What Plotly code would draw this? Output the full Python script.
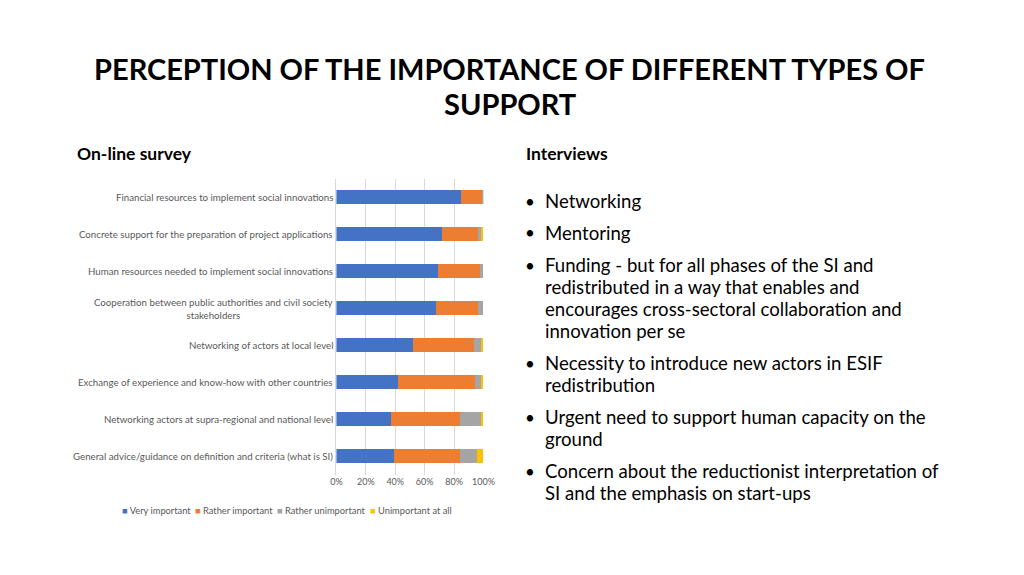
import plotly.graph_objects as go

categories = [
    "Financial resources to implement social innovations",
    "Concrete support for the preparation of project applications",
    "Human resources needed to implement social innovations",
    "Cooperation between public authorities and civil society<br>stakeholders",
    "Networking of actors at local level",
    "Exchange of experience and know-how with other countries",
    "Networking actors at supra-regional and national level",
    "General advice/guidance on definition and criteria (what is SI)",
]
very_important = [85, 72, 69, 68, 52, 42, 37, 39.5]
rather_important = [14.5, 24.5, 28.5, 28.5, 41.5, 52.5, 47, 44.5]
rather_unimportant = [0.5, 2, 2.5, 3.5, 4.5, 4.5, 14.5, 11.5]
unimportant_at_all = [0, 1.5, 0, 0, 2, 1, 1.5, 4.5]

series_names = ["Very important", "Rather important", "Rather unimportant", "Unimportant at all"]
series_values = [very_important, rather_important, rather_unimportant, unimportant_at_all]
colors = ["#4472C4", "#ED7D31", "#A5A5A5", "#FFC000"]

x_ticks = [0, 20, 40, 60, 80, 100]
x_tick_labels = ["0%", "20%", "40%", "60%", "80%", "100%"]

bullets = [
    ["Networking"],
    ["Mentoring"],
    ["Funding - but for all phases of the SI and",
     "redistributed in a way that enables and",
     "encourages cross-sectoral collaboration and",
     "innovation per se"],
    ["Necessity to introduce new actors in ESIF",
     "redistribution"],
    ["Urgent need to support human capacity on the",
     "ground"],
    ["Concern about the reductionist interpretation of",
     "SI and the emphasis on start-ups"],
]

W, H = 1024, 575
FONT = "Lato"

fig = go.Figure()
for name, vals, col in zip(series_names, series_values, colors):
    fig.add_trace(go.Bar(
        y=categories, x=vals, name=name, orientation="h",
        marker=dict(color=col, line=dict(width=0)), width=0.4,
        showlegend=False,
    ))


def py(pix):
    return 1 - pix / H


def px(pix):
    return pix / W


annotations = []
for c in categories:
    annotations.append(dict(
        x=0, xref="x domain", y=c, yref="y", xanchor="right", xshift=-1,
        text=c, showarrow=False, align="center",
        font=dict(family=FONT, size=9.7, color="#595959"),
    ))

annotations.append(dict(x=0.5, y=py(68), xref="paper", yref="paper", xanchor="center", yanchor="middle",
                        text="<b>PERCEPTION OF THE IMPORTANCE OF DIFFERENT TYPES OF</b>", showarrow=False,
                        font=dict(family=FONT, size=29, color="#000000")))
annotations.append(dict(x=0.5, y=py(103), xref="paper", yref="paper", xanchor="center", yanchor="middle",
                        text="<b>SUPPORT</b>", showarrow=False,
                        font=dict(family=FONT, size=29, color="#000000")))
annotations.append(dict(x=px(70), y=py(154), xref="paper", yref="paper", xanchor="left", yanchor="middle",
                        text="<b>On-line survey</b>", showarrow=False,
                        font=dict(family=FONT, size=17.5, color="#000000")))
annotations.append(dict(x=px(527), y=py(154), xref="paper", yref="paper", xanchor="left", yanchor="middle",
                        text="<b>Interviews</b>", showarrow=False,
                        font=dict(family=FONT, size=17.5, color="#000000")))

legend_x = [116, 190, 274, 368]
for name, col, lx in zip(series_names, colors, legend_x):
    annotations.append(dict(x=px(lx), y=py(510), xref="paper", yref="paper", xanchor="left", yanchor="middle",
                            text=f"<span style='color:{col}'>■</span> {name}", showarrow=False,
                            font=dict(family=FONT, size=9.3, color="#595959")))

ycur = 201
for para in bullets:
    annotations.append(dict(x=px(526), y=py(ycur), xref="paper", yref="paper", xanchor="left", yanchor="middle",
                            text="•", showarrow=False, font=dict(family=FONT, size=17, color="#000000")))
    for line in para:
        annotations.append(dict(x=px(546), y=py(ycur), xref="paper", yref="paper", xanchor="left",
                                yanchor="middle", text=line, showarrow=False,
                                font=dict(family=FONT, size=18.6, color="#000000")))
        ycur += 22
    ycur += 10

fig.update_layout(
    width=W, height=H,
    margin=dict(l=0, r=0, t=0, b=0),
    paper_bgcolor="white", plot_bgcolor="white",
    barmode="stack",
    xaxis=dict(domain=[px(336), px(485.5)], range=[0, 100], tickvals=x_ticks, ticktext=x_tick_labels,
               showgrid=True, gridcolor="#D9D9D9", gridwidth=1, zeroline=False, showline=False,
               tickfont=dict(family=FONT, size=9, color="#595959"), ticks="", fixedrange=True),
    yaxis=dict(domain=[py(474.5), py(178.5)], autorange="reversed", showticklabels=False,
               showgrid=False, zeroline=False, showline=True, linecolor="#D9D9D9", linewidth=1,
               categoryorder="array", categoryarray=categories),
    annotations=annotations,
    showlegend=False,
)

fig.write_html("out.html", config={"displayModeBar": False},
               post_script="document.body.style.margin='0';document.body.style.overflow='hidden';")
